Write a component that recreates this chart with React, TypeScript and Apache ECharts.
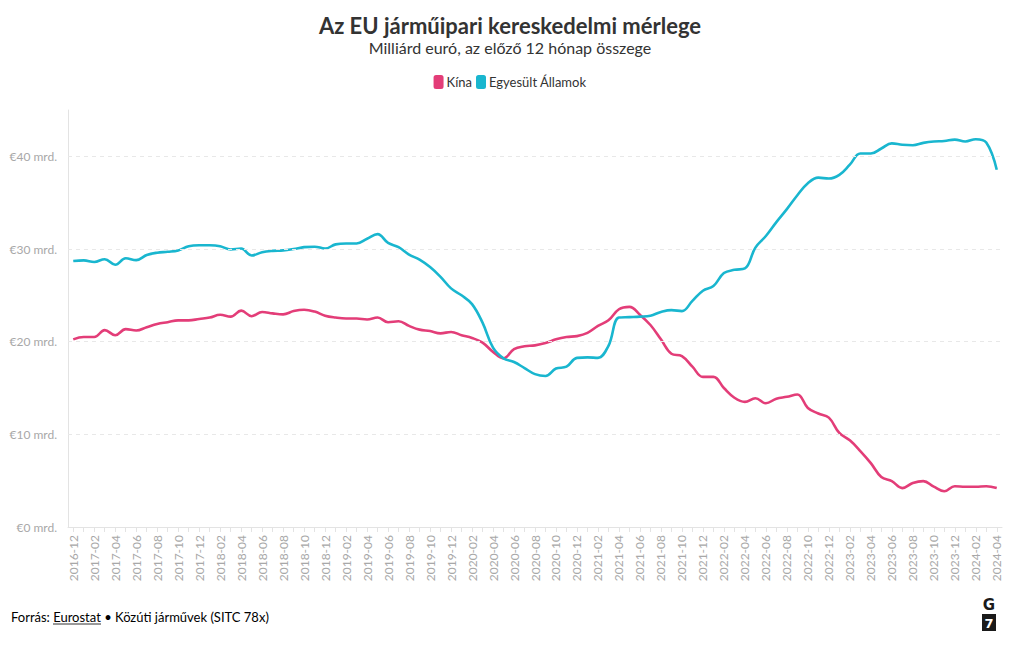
import React, { useEffect, useRef } from "react";
import * as echarts from "echarts";

const months = [
  "2016-12",
  "2017-01", "2017-02", "2017-03", "2017-04", "2017-05", "2017-06", "2017-07", "2017-08", "2017-09", "2017-10", "2017-11", "2017-12",
  "2018-01", "2018-02", "2018-03", "2018-04", "2018-05", "2018-06", "2018-07", "2018-08", "2018-09", "2018-10", "2018-11", "2018-12",
  "2019-01", "2019-02", "2019-03", "2019-04", "2019-05", "2019-06", "2019-07", "2019-08", "2019-09", "2019-10", "2019-11", "2019-12",
  "2020-01", "2020-02", "2020-03", "2020-04", "2020-05", "2020-06", "2020-07", "2020-08", "2020-09", "2020-10", "2020-11", "2020-12",
  "2021-01", "2021-02", "2021-03", "2021-04", "2021-05", "2021-06", "2021-07", "2021-08", "2021-09", "2021-10", "2021-11", "2021-12",
  "2022-01", "2022-02", "2022-03", "2022-04", "2022-05", "2022-06", "2022-07", "2022-08", "2022-09", "2022-10", "2022-11", "2022-12",
  "2023-01", "2023-02", "2023-03", "2023-04", "2023-05", "2023-06", "2023-07", "2023-08", "2023-09", "2023-10", "2023-11", "2023-12",
  "2024-01", "2024-02", "2024-03", "2024-04",
];

const kina = [
  20.25,
  20.5, 20.5, 21.25, 20.7, 21.35, 21.2, 21.55, 21.9, 22.1, 22.3, 22.3, 22.45,
  22.6, 22.9, 22.7, 23.35, 22.75, 23.2, 23.05, 22.95, 23.3, 23.45, 23.25, 22.8,
  22.6, 22.5, 22.5, 22.4, 22.6, 22.1, 22.2, 21.7, 21.3, 21.15, 20.9, 21.05,
  20.7, 20.4, 19.9, 18.9, 18.2, 19.2, 19.5, 19.6, 19.85, 20.25, 20.5, 20.6,
  20.95, 21.7, 22.3, 23.5, 23.75, 22.9, 21.8, 20.25, 18.7, 18.45, 17.3, 16.2,
  16.2, 15.0, 13.95, 13.5, 13.9, 13.35, 13.85, 14.05, 14.3, 12.85, 12.25, 11.8,
  10.15, 9.35, 8.2, 6.9, 5.4, 4.95, 4.2, 4.75, 4.95, 4.35, 3.85, 4.4,
  4.35, 4.35, 4.4, 4.2,
];

const usa = [
  28.7,
  28.77, 28.6, 28.9, 28.3, 29.0, 28.8, 29.35, 29.6, 29.7, 29.85, 30.3, 30.4,
  30.4, 30.3, 29.95, 30.05, 29.3, 29.65, 29.8, 29.85, 30.0, 30.2, 30.25, 30.05,
  30.5, 30.6, 30.6, 31.1, 31.6, 30.65, 30.2, 29.4, 28.85, 28.05, 27.0, 25.75,
  25.0, 24.05, 22.05, 19.35, 18.2, 17.8, 17.15, 16.5, 16.3, 17.1, 17.3, 18.25,
  18.3, 18.25, 19.55, 22.6, 22.65, 22.7, 22.8, 23.2, 23.4, 23.3, 24.4, 25.5,
  26.0, 27.4, 27.75, 27.9, 30.15, 31.4, 32.9, 34.3, 35.8, 37.1, 37.7, 37.6,
  38.0, 39.1, 40.3, 40.3, 40.85, 41.4, 41.25, 41.2, 41.45, 41.6, 41.65, 41.8,
  41.6, 41.85, 41.5, 38.55,
];

const gridValues = [10, 20, 30, 40];

const seriesNames = ["Kína", "Egyesült Államok"];
const colors = ["#e33d78", "#19b6cf"];

const FONT = "Lato, 'Noto Sans', sans-serif";

export default function App() {
  const ref = useRef<HTMLDivElement>(null);

  useEffect(() => {
    document.body.style.margin = "0";
    const chart = echarts.init(ref.current!, null, { renderer: "svg" });
    chart.setOption({
      animation: false,
      backgroundColor: "#ffffff",
      textStyle: { fontFamily: FONT },
      title: [
        {
          text: "Az EU járműipari kereskedelmi mérlege",
          left: "center",
          top: 9,
          textStyle: { fontSize: 22, fontWeight: "bold", color: "#333333", fontFamily: FONT },
        },
        {
          text: "Milliárd euró, az előző 12 hónap összege",
          left: "center",
          top: 34,
          textStyle: { fontSize: 16, fontWeight: "normal", color: "#333333", fontFamily: FONT },
        },
      ],
      legend: {
        data: seriesNames,
        top: 70,
        left: "center",
        icon: "roundRect",
        itemWidth: 10,
        itemHeight: 14,
        itemGap: 4,
        textStyle: { fontSize: 13, color: "#333333", fontFamily: FONT, padding: [0, 0, 0, -2] },
      },
      grid: { left: 68, right: 18, top: 110, bottom: 123, containLabel: false },
      xAxis: {
        type: "category",
        data: months,
        boundaryGap: true,
        axisLine: { show: true, lineStyle: { color: "#e3e3e3", width: 1 } },
        axisTick: { show: true, interval: 0, alignWithLabel: true, length: 5, lineStyle: { color: "#e3e3e3" } },
        axisLabel: {
          interval: 1,
          rotate: 90,
          color: "#a8a8a8",
          fontSize: 12,
          margin: 8,
          fontFamily: FONT,
        },
      },
      yAxis: {
        type: "value",
        min: 0,
        max: 45,
        interval: 10,
        axisLine: { show: true, lineStyle: { color: "#e3e3e3", width: 1 } },
        axisTick: { show: false },
        splitLine: { show: false },
        axisLabel: {
          formatter: "€{value} mrd.",
          showMaxLabel: false,
          color: "#a8a8a8",
          fontSize: 12,
          margin: 11,
          fontFamily: FONT,
        },
      },
      series: [
        {
          name: "grid",
          type: "line",
          data: [],
          z: 1,
          silent: true,
          markLine: {
            silent: true,
            symbol: "none",
            label: { show: false },
            lineStyle: { color: "#e8e8e8", type: [4, 4], width: 1 },
            data: gridValues.map((v) => ({ yAxis: v })),
          },
        },
        {
          name: seriesNames[0],
          type: "line",
          data: kina,
          smooth: 0.4,
          showSymbol: false,
          symbol: "none",
          z: 3,
          lineStyle: { color: colors[0], width: 2.6 },
          itemStyle: { color: colors[0] },
        },
        {
          name: seriesNames[1],
          type: "line",
          data: usa,
          smooth: 0.4,
          showSymbol: false,
          symbol: "none",
          z: 3,
          lineStyle: { color: colors[1], width: 2.6 },
          itemStyle: { color: colors[1] },
        },
      ],
      graphic: [
        {
          type: "text",
          left: 11,
          top: 610,
          style: {
            text: "{a|Forrás: }{b|Eurostat}{a| • Közúti járművek (SITC 78x)}",
            rich: {
              a: { fontSize: 13, color: "#333333", fontFamily: FONT },
              b: { fontSize: 13, color: "#333333", fontFamily: FONT },
            },
          },
        },
        {
          type: "line",
          shape: { x1: 53, y1: 624, x2: 101, y2: 624 },
          style: { stroke: "#333333", lineWidth: 1 },
        },
        {
          type: "text",
          x: 989,
          y: 605,
          style: {
            text: "G",
            fontSize: 15,
            fontWeight: "bold",
            fill: "#1a1a1a",
            align: "center",
            verticalAlign: "middle",
            fontFamily: "'DejaVu Sans', sans-serif",
          },
        },
        {
          type: "rect",
          shape: { x: 982, y: 614, width: 14, height: 17 },
          style: { fill: "#1a1a1a" },
        },
        {
          type: "text",
          x: 989,
          y: 623,
          style: {
            text: "7",
            fontSize: 13,
            fontWeight: "bold",
            fill: "#ffffff",
            align: "center",
            verticalAlign: "middle",
            fontFamily: "'DejaVu Sans', sans-serif",
          },
        },
      ],
    });
    return () => chart.dispose();
  }, []);

  return <div ref={ref} style={{ width: 1020, height: 650 }} />;
}
